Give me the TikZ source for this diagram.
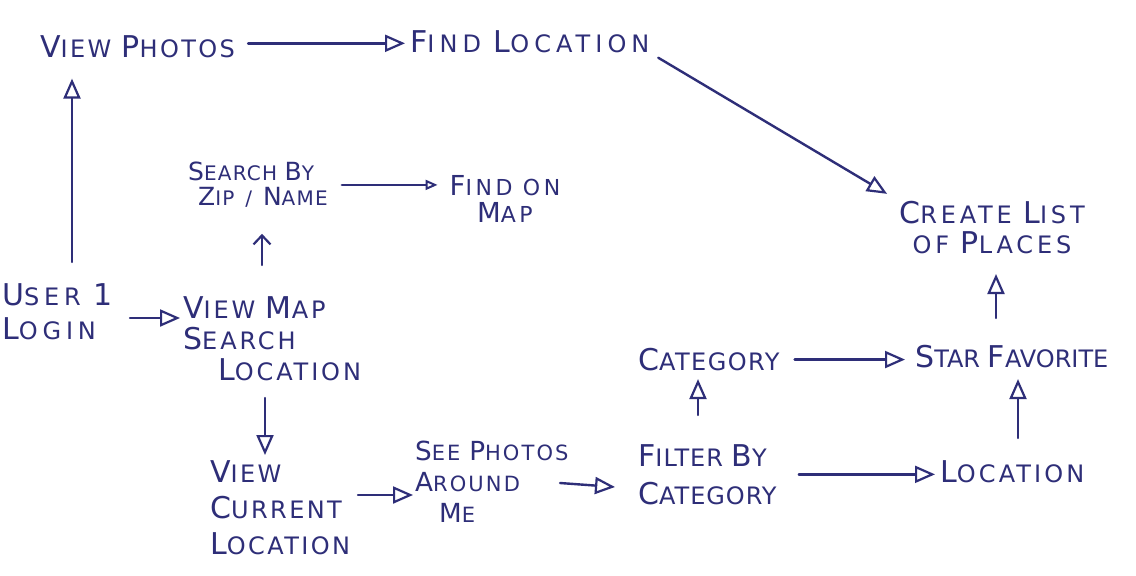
\documentclass[tikz,border=0pt]{standalone}
\usepackage{fontspec}
\setmainfont{DejaVu Sans}
\usetikzlibrary{arrows.meta}
\definecolor{ink}{RGB}{46,46,120}
\newcommand\Ini[1]{\scalebox{1.25}{#1}}
\tikzset{
  lbl/.style={text=ink, inner sep=0pt, anchor=north west,
    font=\fontsize{24}{34}\selectfont\addfontfeature{LetterSpace=#1}},
  lbl/.default=10,
  arr/.style={draw=ink, line width=2.4pt, line cap=round,
    -{Triangle[open,length=20pt,width=17pt,line width=2.2pt]}},
}
\begin{document}
\begin{tikzpicture}[x=1pt,y=-1pt]
\useasboundingbox[fill=white] (0,0) rectangle (1136,576);
% nodes
\node[lbl=10] (vp) at (40,35) {\Ini{V}IEW \Ini{P}HOTOS};
\node[lbl=21] (fl) at (410,30) {\Ini{F}IND \Ini{L}OCATION};
\node[lbl=16,anchor=north,align=center,font=\fontsize{24}{30}\selectfont\addfontfeature{LetterSpace=16}] (cl) at (992,201) {\Ini{C}REATE \Ini{L}IST\\OF \Ini{P}LACES};
\node[lbl,align=left,font=\fontsize{20}{25}\selectfont\addfontfeature{LetterSpace=6}] (sz) at (188,162) {\Ini{S}EARCH \Ini{B}Y\\\hspace*{10pt}\Ini{Z}IP\ \,/\ \,\Ini{N}AME};
\node[lbl,anchor=north,align=center,font=\fontsize{22}{27}\selectfont\addfontfeature{LetterSpace=16}] (fm) at (505,175) {\Ini{F}IND ON\\\Ini{M}AP};
\node[lbl=20,align=left] (user) at (2,283) {\Ini{U}SER \Ini{1}\\\Ini{L}OGIN};
\node[lbl,align=left,font=\fontsize{24}{31}\selectfont\addfontfeature{LetterSpace=12}] (vm) at (183,296) {\Ini{V}IEW \Ini{M}AP\\\Ini{S}EARCH\\\hspace*{35pt}\Ini{L}OCATION};
\node[lbl,align=left,font=\fontsize{24}{36}\selectfont\addfontfeature{LetterSpace=10}] (vc) at (210,460) {\Ini{V}IEW\\\Ini{C}URRENT\\\Ini{L}OCATION};
\node[lbl,align=left,font=\fontsize{21}{31}\selectfont\addfontfeature{LetterSpace=10}] (sp) at (415,441) {\Ini{S}EE \Ini{P}HOTOS\\\Ini{A}ROUND\\\hspace*{24pt}\Ini{M}E};
\node[lbl,align=left,font=\fontsize{24}{38}\selectfont\addfontfeature{LetterSpace=4}] (fb) at (638,444) {\Ini{F}ILTER \Ini{B}Y\\\Ini{C}ATEGORY};
\node[lbl=6] (cat) at (638,348) {\Ini{C}ATEGORY};
\node[lbl=0] (sf) at (915,345) {\Ini{S}TAR \Ini{F}AVORITE};
\node[lbl=13] (loc) at (940,460) {\Ini{L}OCATION};
% points on node sides where the hand-drawn connectors start
\coordinate (u0) at ([shift={(70,-21)}]user.north west);
\coordinate (u1) at ([shift={(128,35)}]user.north west);
\coordinate (m0) at ([shift={(79,-31)}]vm.north west);
\coordinate (m1) at ([shift={(82,102)}]vm.north west);
\coordinate (c0) at ([shift={(148,35)}]vc.north west);
\coordinate (p0) at ([shift={(145,42)}]sp.north west);
\coordinate (p1) at ([shift={(-23,43)}]fb.north west);
\coordinate (f0) at ([shift={(60,-29)}]fb.north west);
\coordinate (s0) at ([shift={(81,-27)}]sf.north west);
\coordinate (l0) at ([shift={(78,-22)}]loc.north west);
% connectors
\draw[arr,shorten <=13pt,shorten >=5pt] ([shift={(0,-3)}]vp.east) -- ([shift={(0,-3)}]vp.east -| fl.west);
\draw[arr,shorten <=10pt,shorten >=14pt] (fl.south east) -- (cl.north west);
\draw[arr,shorten >=21pt] (u0) -- (u0 |- vp.south);
\draw[arr,-{Triangle[open,length=12pt,width=10pt,line width=2pt]},shorten <=14pt,shorten >=12pt] (sz.east) -- (sz.east -| fm.west);
\draw[arr,-{Straight Barb[length=9pt,width=17pt,line width=2.2pt]},shorten >=26pt] (m0) -- (m0 |- sz.south);
\draw[arr,shorten >=3pt] (u1) -- (u1 -| vm.west);
\draw[arr,shorten >=5pt] (m1) -- (m1 |- vc.north);
\draw[arr,shorten >=2pt] (c0) -- (c0 -| sp.west);
\draw[arr] (p0) -- (p1);
\draw[arr,shorten >=8pt] (f0) -- (f0 |- cat.south);
\draw[arr,shorten <=15pt,shorten >=10pt] (cat.east) -- (cat.east -| sf.west);
\draw[arr,shorten >=20pt] (s0) -- (s0 |- cl.south);
\draw[arr,shorten >=11pt] (l0) -- (l0 |- sf.south);
\draw[arr,shorten <=22pt,shorten >=5pt] (fb.east) -- (fb.east -| loc.west);
\end{tikzpicture}
\end{document}
